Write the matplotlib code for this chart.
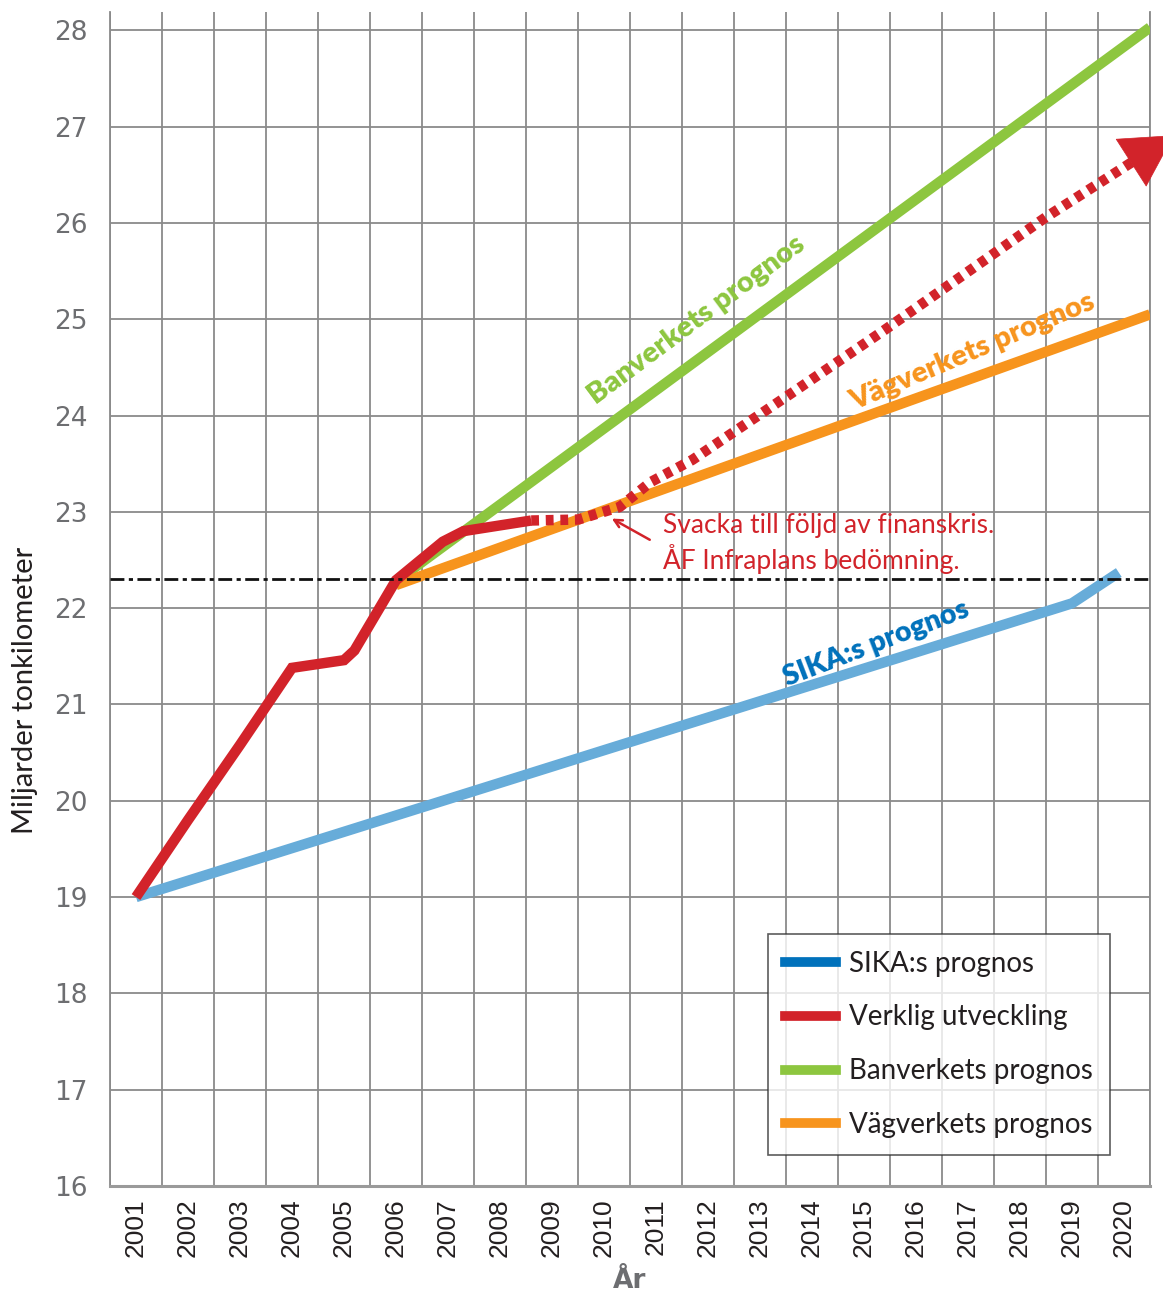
import matplotlib
matplotlib.use("Agg")
import matplotlib.pyplot as plt
from matplotlib.lines import Line2D
import numpy as np

# data
years = np.arange(2001, 2021)

real_x = [2001.0, 2002.0, 2003.0, 2004.0, 2005.0, 2005.2, 2006.0, 2006.9, 2007.3, 2008.6]
real_y = [19.0, 19.8, 20.58, 21.38, 21.46, 21.56, 22.29, 22.69, 22.8, 22.91]

af_x = [2008.6, 2009.5, 2010.3, 2010.9, 2011.7, 2013.6, 2015.4, 2018.5, 2020.15]
af_y = [22.91, 22.92, 23.05, 23.31, 23.54, 24.23, 24.89, 26.06, 26.63]
af_tip = (2020.96, 26.91)

sika_x = [2001.0, 2019.0, 2019.9]
sika_y = [19.0, 22.05, 22.37]

ban_x = [2006.0, 2020.5]
ban_y = [22.28, 28.03]

vag_x = [2006.0, 2020.5]
vag_y = [22.24, 25.05]

ref_level = 22.30

note_tip = (2010.15, 22.93)
note_tail = (2010.88, 22.71)

c_blue_line = "#67acd9"
c_blue = "#0071bb"
c_red = "#d2232a"
c_green = "#8dc63f"
c_orange = "#f7941d"
c_grid = "#8a8a8a"

W, H = 1163, 1296
fig = plt.figure(figsize=(W / 100, H / 100), dpi=100)
ax = fig.add_axes([110 / W, 1 - 1186 / H, 1040 / W, 1174 / H])

ax.set_xlim(2000.5, 2020.5)
ax.set_ylim(16, 28.19)

# grid
ax.set_xticks(years)
ax.set_xticks(np.arange(2000.5, 2021, 1), minor=True)
ax.set_yticks(np.arange(16, 29, 1))
ax.grid(which="minor", axis="x", color=c_grid, lw=1.3, zorder=0)
ax.grid(which="major", axis="y", color=c_grid, lw=1.3, zorder=0)
ax.tick_params(axis="both", which="both", length=0)
ax.tick_params(axis="y", pad=16, labelsize=19, labelcolor="#6d6e71")
ax.tick_params(axis="x", pad=9)
for lab in ax.get_xticklabels():
    lab.set_rotation(90)
    lab.set_fontfamily("Liberation Sans")
    lab.set_fontsize(19)
    lab.set_color("#231f20")
for lab in ax.get_yticklabels():
    lab.set_fontfamily("DejaVu Sans")

ax.spines["top"].set_visible(False)
ax.spines["left"].set_color(c_grid)
ax.spines["left"].set_lw(1.3)
ax.spines["right"].set_color(c_grid)
ax.spines["right"].set_lw(1.3)
ax.spines["bottom"].set_color("#9a9a9a")
ax.spines["bottom"].set_lw(2.2)

lw = 7.5
kw = dict(solid_capstyle="butt", solid_joinstyle="miter")
ax.plot(sika_x, sika_y, color=c_blue_line, lw=lw, zorder=3, **kw)
ax.plot(vag_x, vag_y, color=c_orange, lw=lw, zorder=4, **kw)
ax.plot(ban_x, ban_y, color=c_green, lw=lw, zorder=3.5, **kw)
ax.plot(af_x, af_y, color=c_red, lw=lw, zorder=5, dashes=(0.75, 0.65),
        dash_capstyle="butt")
ax.plot(real_x, real_y, color=c_red, lw=lw, zorder=6, **kw)

# arrow head at the end of the dotted line
ax.annotate("", xy=af_tip, xytext=(af_x[-1], af_y[-1]),
            arrowprops=dict(arrowstyle="-|>,head_length=1.8,head_width=1.0",
                            color=c_red, lw=0.5, shrinkA=0, shrinkB=0,
                            mutation_scale=20),
            annotation_clip=False, zorder=7)

ax.axhline(ref_level, color="#111111", lw=2, dashes=(5, 1.6, 1.5, 1.6), zorder=8)

# labels on the lines
lab_font = "Lato"
ax.text(2011.79, 24.99, "Banverkets prognos", color=c_green, fontsize=21,
        fontweight="heavy", family=lab_font, rotation=36.7, ha="center",
        va="center", rotation_mode="anchor", zorder=9)
ax.text(2017.08, 24.66, "Vägverkets prognos", color=c_orange, fontsize=21,
        fontweight="heavy", family=lab_font, rotation=22.9, ha="center",
        va="center", rotation_mode="anchor", zorder=9)
ax.text(2015.23, 21.63, "SIKA:s prognos", color=c_blue, fontsize=20.5,
        fontweight="heavy", family=lab_font, rotation=21, ha="center",
        va="center", rotation_mode="anchor", zorder=9)

ax.text(2011.13, 22.67, "Svacka till följd av finanskris.\nÅF Infraplans bedömning.",
        color=c_red, fontsize=19, family=lab_font, ha="left", va="center",
        linespacing=1.25, zorder=9)
ax.annotate("", xy=note_tip, xytext=note_tail,
            arrowprops=dict(arrowstyle="->", color=c_red, lw=1.8,
                            shrinkA=0, shrinkB=0, mutation_scale=14),
            zorder=9)

# axis titles
ax.set_xlabel("År", fontsize=19, fontweight="bold", color="#6d6e71",
              family="DejaVu Sans", labelpad=8)
fig.text(25 / W, 1 - 690 / H, "Miljarder tonkilometer", rotation=90,
         fontsize=21, family=lab_font, color="#231f20", ha="center", va="center")

# legend
handles = [Line2D([], [], color=c, lw=7) for c in (c_blue, c_red, c_green, c_orange)]
labels = ["SIKA:s prognos", "Verklig utveckling", "Banverkets prognos", "Vägverkets prognos"]
leg = fig.legend(handles, labels, loc="upper left",
                 bbox_to_anchor=(768 / W, 1 - 934 / H),
                 prop={"family": lab_font, "size": 20},
                 frameon=True, fancybox=False, edgecolor="#333333",
                 handlelength=1.85, handletextpad=0.47, labelspacing=1.0,
                 borderpad=0.6, borderaxespad=0)
leg.get_frame().set_linewidth(1.2)
for t in leg.get_texts():
    t.set_color("#231f20")

fig.savefig("out.png", dpi=100)
